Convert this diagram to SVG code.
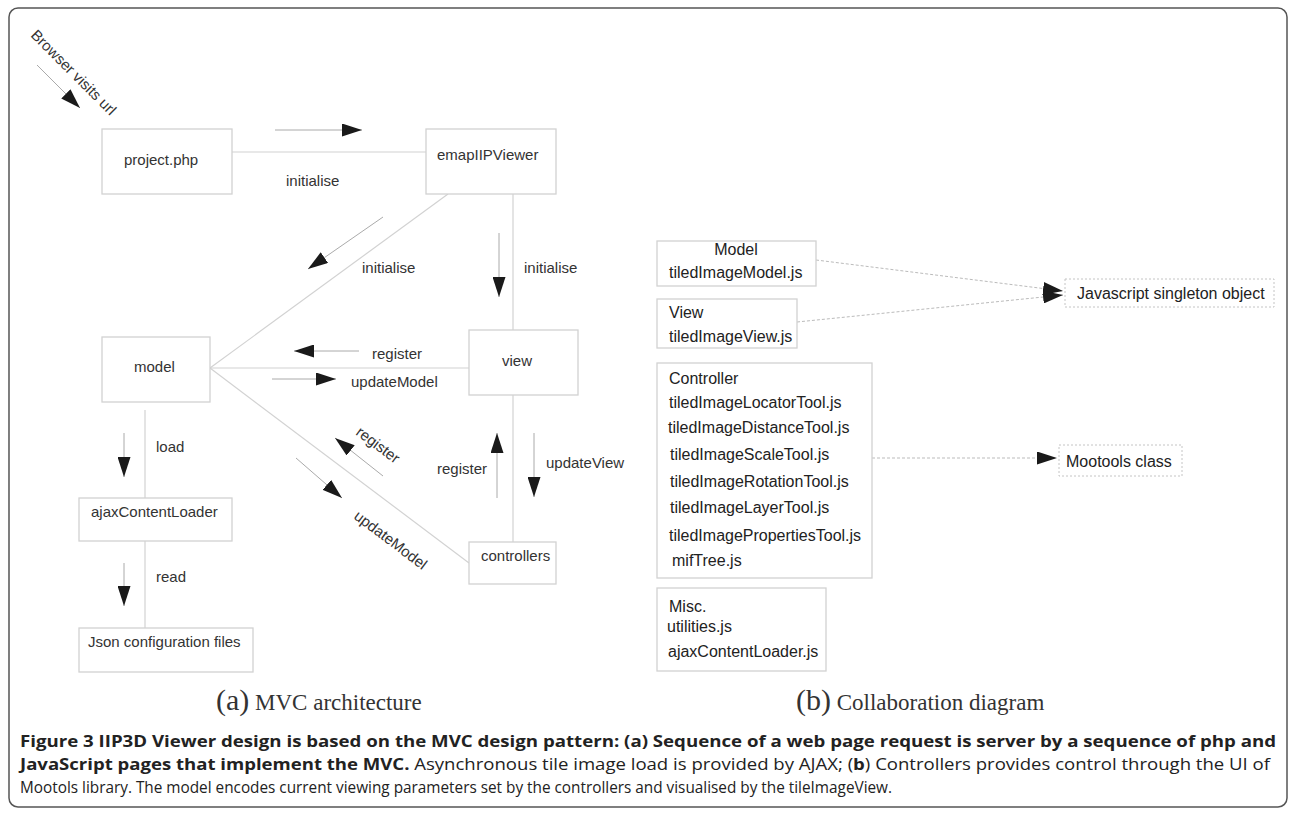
<svg xmlns="http://www.w3.org/2000/svg" width="1293" height="817" viewBox="0 0 1293 817">
<defs>
<marker id="ah" viewBox="0 0 20 13" markerWidth="20" markerHeight="13" refX="20" refY="6.5" orient="auto" markerUnits="userSpaceOnUse"><path d="M0,0 L20,6.5 L0,13 z" fill="#1a1a1a"/></marker>
<style>
.box{fill:#fff;stroke:#d2d2d2;stroke-width:1.3}
.dbox{fill:#fff;stroke:#c4c4c4;stroke-width:1;stroke-dasharray:2,2}
.t{font-family:"Liberation Sans",Arial,sans-serif;font-size:15px;fill:#333}
.t2{font-family:"Liberation Sans",Arial,sans-serif;font-size:16px;fill:#222}
.con{stroke:#d2d2d2;stroke-width:1.2;fill:none}
.arr{stroke:#aaa;stroke-width:1;fill:none;marker-end:url(#ah)}
.darr{stroke:#bbb;stroke-width:1;stroke-dasharray:3,2;fill:none;marker-end:url(#ah)}
.cap{font-family:"Liberation Serif","Times New Roman",serif;fill:#333}
.fig{font-family:"Open Sans","Noto Sans",sans-serif;font-size:16px;fill:#222}
.b{font-weight:bold}
</style>
</defs>
<rect x="9" y="8" width="1278" height="799" rx="9" fill="#fff" stroke="#555" stroke-width="1.5"/>

<g id="connectors">
<line class="con" x1="232" y1="152" x2="426" y2="152"/>
<line class="con" x1="448" y1="194" x2="210" y2="368"/>
<line class="con" x1="513" y1="194" x2="513" y2="330"/>
<line class="con" x1="210" y1="368" x2="469" y2="368"/>
<line class="con" x1="210" y1="368" x2="469" y2="563"/>
<line class="con" x1="513" y1="395" x2="513" y2="542"/>
<line class="con" x1="145" y1="410" x2="145" y2="498"/>
<line class="con" x1="145" y1="541" x2="145" y2="628"/>
<line class="arr" x1="37" y1="65" x2="80" y2="108"/>
<line class="arr" x1="275" y1="130" x2="362" y2="130"/>
<line class="arr" x1="383" y1="217" x2="308" y2="269"/>
<line class="arr" x1="499" y1="233" x2="499" y2="297"/>
<line class="arr" x1="359" y1="351" x2="294" y2="351"/>
<line class="arr" x1="272" y1="379" x2="336" y2="379"/>
<line class="arr" x1="383" y1="476" x2="335" y2="438"/>
<line class="arr" x1="296" y1="458" x2="342" y2="498"/>
<line class="arr" x1="497" y1="498" x2="497" y2="433"/>
<line class="arr" x1="534" y1="433" x2="534" y2="497"/>
<line class="arr" x1="124" y1="433" x2="124" y2="477"/>
<line class="arr" x1="124" y1="563" x2="124" y2="606"/>
<line class="darr" x1="816" y1="260" x2="1063" y2="291"/>
<line class="darr" x1="797" y1="322" x2="1063" y2="295"/>
<line class="darr" x1="872" y1="458" x2="1057" y2="458"/>
<text class="t" transform="translate(30,36) rotate(45)">Browser visits url</text>
<text class="t" x="286" y="186">initialise</text>
<text class="t" x="362" y="273">initialise</text>
<text class="t" x="524" y="273">initialise</text>
<text class="t" x="372" y="359">register</text>
<text class="t" x="351" y="387">updateModel</text>
<text class="t" transform="translate(355,434) rotate(37)">register</text>
<text class="t" transform="translate(353,518) rotate(37)">updateModel</text>
<text class="t" x="437" y="474">register</text>
<text class="t" x="546" y="468">updateView</text>
<text class="t" x="156" y="452">load</text>
<text class="t" x="156" y="582">read</text>
</g>

<g id="project"><rect class="box" x="102" y="129" width="130" height="65"/><text class="t" x="124" y="165">project.php</text></g>
<g id="emap"><rect class="box" x="426" y="129" width="130" height="65"/><text class="t" x="437" y="160">emapIIPViewer</text></g>
<g id="model"><rect class="box" x="102" y="337" width="108" height="65"/><text class="t" x="134" y="372">model</text></g>
<g id="view"><rect class="box" x="469" y="330" width="109" height="65"/><text class="t" x="502" y="366">view</text></g>
<g id="controllers"><rect class="box" x="469" y="542" width="87" height="42"/><text class="t" x="481" y="561">controllers</text></g>
<g id="ajax"><rect class="box" x="79" y="498" width="153" height="43"/><text class="t" x="91" y="517">ajaxContentLoader</text></g>
<g id="json"><rect class="box" x="79" y="628" width="174" height="44"/><text class="t" x="88" y="647">Json configuration files</text></g>

<g id="bModel"><rect class="box" x="657" y="241" width="159" height="45"/><text class="t2" x="736" y="255" text-anchor="middle">Model</text><text class="t2" x="669" y="278">tiledImageModel.js</text></g>
<g id="bView"><rect class="box" x="657" y="299" width="140" height="49"/><text class="t2" x="669" y="318">View</text><text class="t2" x="669" y="342">tiledImageView.js</text></g>
<g id="bController"><rect class="box" x="657" y="363" width="215" height="215"/>
<text class="t2" x="669" y="384">Controller</text>
<text class="t2" x="669" y="408">tiledImageLocatorTool.js</text>
<text class="t2" x="668" y="433">tiledImageDistanceTool.js</text>
<text class="t2" x="670" y="460">tiledImageScaleTool.js</text>
<text class="t2" x="670" y="487">tiledImageRotationTool.js</text>
<text class="t2" x="670" y="513">tiledImageLayerTool.js</text>
<text class="t2" x="669" y="541">tiledImagePropertiesTool.js</text>
<text class="t2" x="672" y="566">mifTree.js</text></g>
<g id="bMisc"><rect class="box" x="657" y="588" width="169" height="83"/>
<text class="t2" x="669" y="612">Misc.</text>
<text class="t2" x="667" y="632">utilities.js</text>
<text class="t2" x="668" y="657">ajaxContentLoader.js</text></g>
<g id="bJS"><rect class="dbox" x="1065" y="279" width="209" height="28"/><text class="t2" x="1077" y="299">Javascript singleton object</text></g>
<g id="bMoo"><rect class="dbox" x="1059" y="445" width="123" height="31"/><text class="t2" x="1066" y="467">Mootools class</text></g>

<g id="captions">
<text class="cap" x="216" y="710"><tspan font-size="30">(a)</tspan><tspan font-size="23"> MVC architecture</tspan></text>
<text class="cap" x="796" y="710"><tspan font-size="30">(b)</tspan><tspan font-size="23"> Collaboration diagram</tspan></text>
<text class="fig b" x="20" y="747" textLength="1256" lengthAdjust="spacingAndGlyphs">Figure 3 IIP3D Viewer design is based on the MVC design pattern: (a) Sequence of a web page request is server by a sequence of php and</text>
<text class="fig" x="20" y="770" textLength="1250" lengthAdjust="spacingAndGlyphs"><tspan class="b">JavaScript pages that implement the MVC.</tspan> Asynchronous tile image load is provided by AJAX; (<tspan class="b">b</tspan>) Controllers provides control through the UI of</text>
<text class="fig" x="20" y="793" textLength="872" lengthAdjust="spacingAndGlyphs">Mootols library. The model encodes current viewing parameters set by the controllers and visualised by the tileImageView.</text>
</g>
</svg>
